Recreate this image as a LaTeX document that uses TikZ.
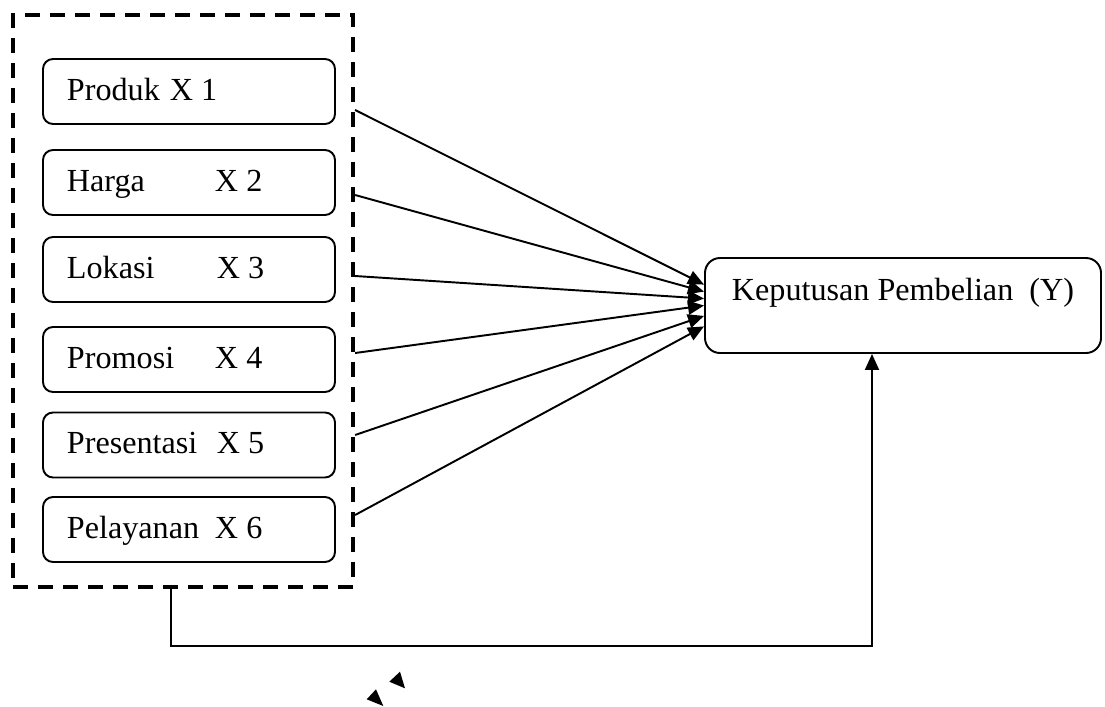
\documentclass[tikz,border=0pt]{standalone}
\usepackage{fontspec}
\setmainfont{Liberation Serif}
\usetikzlibrary{arrows.meta}

\newcommand{\vlabel}[2]{\makebox[4.88cm][l]{\makebox[2.96cm][l]{#1}#2}}

\begin{document}
\begin{tikzpicture}[x=0.2mm,y=-0.2mm,
    font=\fontsize{18.3}{22}\selectfont,
    varbox/.style={draw,line width=1.1pt,rounded corners=0.2cm,inner xsep=0.48cm,inner ysep=0pt,text height=0.82cm,text depth=0.48cm},
    arr/.style={-{Triangle[length=0.32cm,width=0.28cm]},line width=1.1pt}]
  \useasboundingbox (0,0) rectangle (1105,706);

  % dashed frame round the variables
  \node[draw,line width=2.4pt,dash pattern=on 0.3cm off 0.2cm,minimum width=6.8cm,minimum height=11.44cm,inner sep=0pt] (grp) at (183,301) {};

  \node[varbox] (x1) at (189,91.5) {\makebox[4.88cm][l]{Produk\hspace{0.2cm}X 1}};
  \node[varbox] (x2) at (189,182.5) {\vlabel{Harga}{X 2}};
  \node[varbox] (x3) at (189,269.5) {\vlabel{Lokasi}{\hspace{0.04cm}X 3}};
  \node[varbox] (x4) at (189,359.5) {\vlabel{Promosi}{X 4}};
  \node[varbox] (x5) at (189,445) {\vlabel{Presentasi}{\hspace{0.04cm}X 5}};
  \node[varbox] (x6) at (189,529.5) {\vlabel{Pelayanan}{X 6}};

  \node[draw,line width=1.1pt,rounded corners=0.3cm,minimum width=7.92cm,inner ysep=0pt,text height=0.84cm,text depth=1.06cm] (kp) at (903,305.5) {Keputusan Pembelian~~(Y)};

  % arrows from the frame
  \draw[arr] (grp.east |- 0,110) -- (kp.174);
  \draw[arr] (grp.east |- 0,195) -- (kp.176);
  \draw[arr] (grp.east |- 0,276) -- (kp.178);
  \draw[arr] (grp.east |- 0,353) -- (kp.180);
  \draw[arr] (grp.east |- 0,435) -- (kp.183);
  \draw[arr] (grp.east |- 0,515) -- (kp.186);

  \coordinate (turn) at (171,646);
  \coordinate (up) at (872,646);
  \draw[arr] (grp.south -| turn) -- (turn) -| (kp.south -| up);

  \fill (400,671.7) -- (389.3,681.7) -- (405,688.3) -- cycle;
  \fill (376,689.3) -- (366.7,699.3) -- (383.3,706) -- cycle;
\end{tikzpicture}
\end{document}
